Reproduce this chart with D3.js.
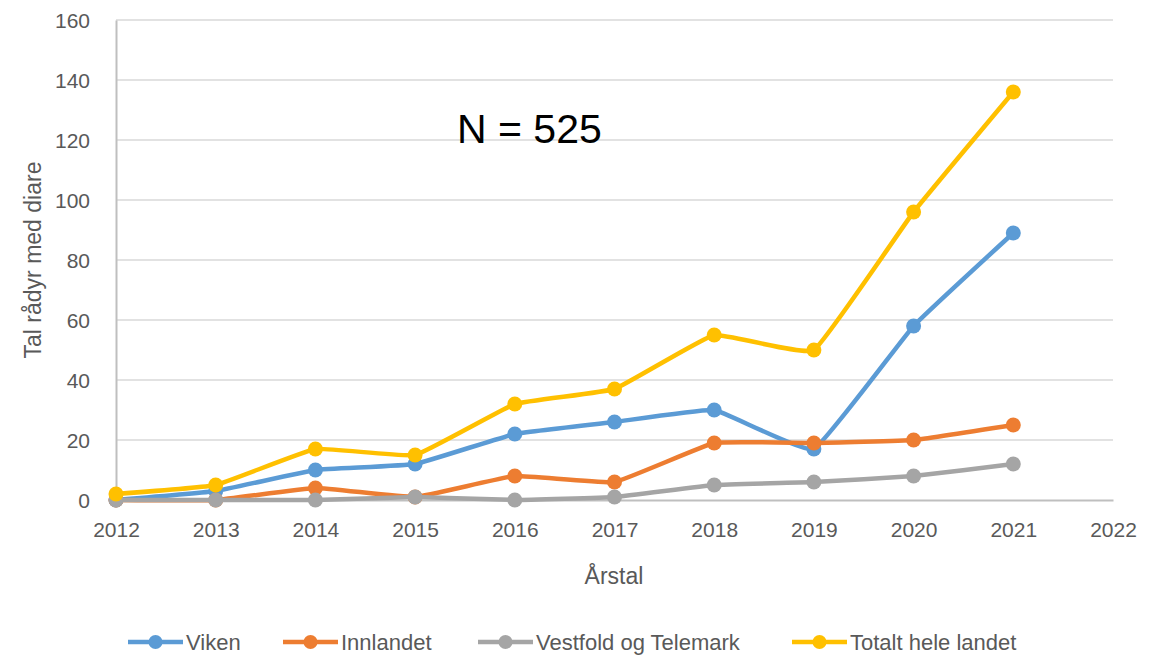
<!DOCTYPE html>
<html>
<head>
<meta charset="utf-8">
<script src="https://cdn.jsdelivr.net/npm/d3@7"></script>
<style>
  body { margin: 0; background: #fff; }
  svg text { font-family: "Liberation Sans", Arial, sans-serif; fill: #595959; }
</style>
</head>
<body>
<svg id="chart" width="1165" height="657"></svg>
<script>
// data
const years = [2012, 2013, 2014, 2015, 2016, 2017, 2018, 2019, 2020, 2021];
const viken = [0, 3, 10, 12, 22, 26, 30, 17, 58, 89];
const innlandet = [0, 0, 4, 1, 8, 6, 19, 19, 20, 25];
const vestfold = [0, 0, 0, 1, 0, 1, 5, 6, 8, 12];
const totalt = [2, 5, 17, 15, 32, 37, 55, 50, 96, 136];
const seriesNames = ["Viken", "Innlandet", "Vestfold og Telemark", "Totalt hele landet"];
const seriesColors = ["#5b9bd5", "#ed7d31", "#a5a5a5", "#ffc000"];
const yTicks = [0, 20, 40, 60, 80, 100, 120, 140, 160];
const xTicks = d3.range(2012, 2023);

const series = [viken, innlandet, vestfold, totalt].map((vals, i) => ({
    name: seriesNames[i],
    color: seriesColors[i],
    values: vals.map((v, j) => ({ year: years[j], value: v }))
}));

const margin = { top: 20, left: 116, right: 52, bottom: 157 };
const width = 1165 - margin.left - margin.right;
const height = 657 - margin.top - margin.bottom;

const svg = d3.select('#chart');
const g = svg.append('g').attr('transform', `translate(${margin.left},${margin.top})`);

const x = d3.scaleLinear().domain([2012, 2022]).range([0, width]);
const y = d3.scaleLinear().domain([0, 160]).range([height, 0]);

// gridlines
g.selectAll('.grid')
    .data(yTicks.filter(d => d > 0))
    .join('line')
    .attr('x1', 0).attr('x2', width)
    .attr('y1', d => y(d)).attr('y2', d => y(d))
    .attr('stroke', '#d9d9d9').attr('stroke-width', 1.5);

// axes
const yAxis = g.append('g').call(d3.axisLeft(y).tickValues(yTicks).tickSize(0).tickPadding(26));
yAxis.select('.domain').attr('stroke', '#bfbfbf').attr('stroke-width', 2);
yAxis.selectAll('text').style('font-size', '21px').attr('dy', '0.35em');

const xAxis = g.append('g').attr('transform', `translate(0,${height})`)
    .call(d3.axisBottom(x).tickValues(xTicks).tickFormat(d3.format('d')).tickSize(0).tickPadding(22));
xAxis.select('.domain').attr('stroke', '#bfbfbf').attr('stroke-width', 2);
xAxis.selectAll('text').style('font-size', '21px');

// axis titles
svg.append('text')
    .attr('x', 614).attr('y', 584)
    .attr('text-anchor', 'middle').style('font-size', '23px')
    .text('Årstal');

svg.append('text')
    .attr('transform', `translate(41,${margin.top + y(80)}) rotate(-90)`)
    .attr('text-anchor', 'middle').style('font-size', '23px')
    .text('Tal rådyr med diare');

// annotation
svg.append('text')
    .attr('x', 457).attr('y', 143)
    .style('font-size', '41px').style('fill', '#000')
    .text('N = 525');

// lines + markers
const line = d3.line()
    .x(d => x(d.year))
    .y(d => y(d.value))
    .curve(d3.curveCardinal.tension(0.7));

const sg = g.selectAll('.series')
    .data(series)
    .join('g')
    .attr('class', 'series');

sg.append('path')
    .attr('d', d => line(d.values))
    .attr('fill', 'none')
    .attr('stroke', d => d.color)
    .attr('stroke-width', 4.5)
    .attr('stroke-linejoin', 'round');

sg.selectAll('circle')
    .data(d => d.values.map(v => ({ ...v, color: d.color })))
    .join('circle')
    .attr('cx', d => x(d.year))
    .attr('cy', d => y(d.value))
    .attr('r', 7.5)
    .attr('fill', d => d.color);

// legend
const legendX = [128, 283, 478, 792];
const legend = svg.append('g').attr('transform', 'translate(0,642)');
const items = legend.selectAll('.item')
    .data(series)
    .join('g')
    .attr('transform', (d, i) => `translate(${legendX[i]},0)`);
items.append('line')
    .attr('x1', 0).attr('x2', 55).attr('y1', 0).attr('y2', 0)
    .attr('stroke', d => d.color).attr('stroke-width', 4.5);
items.append('circle')
    .attr('cx', 27.5).attr('cy', 0).attr('r', 7)
    .attr('fill', d => d.color);
items.append('text')
    .attr('x', 58).attr('y', 0).attr('dy', '0.35em')
    .style('font-size', '22px')
    .text(d => d.name);
</script>
</body>
</html>
